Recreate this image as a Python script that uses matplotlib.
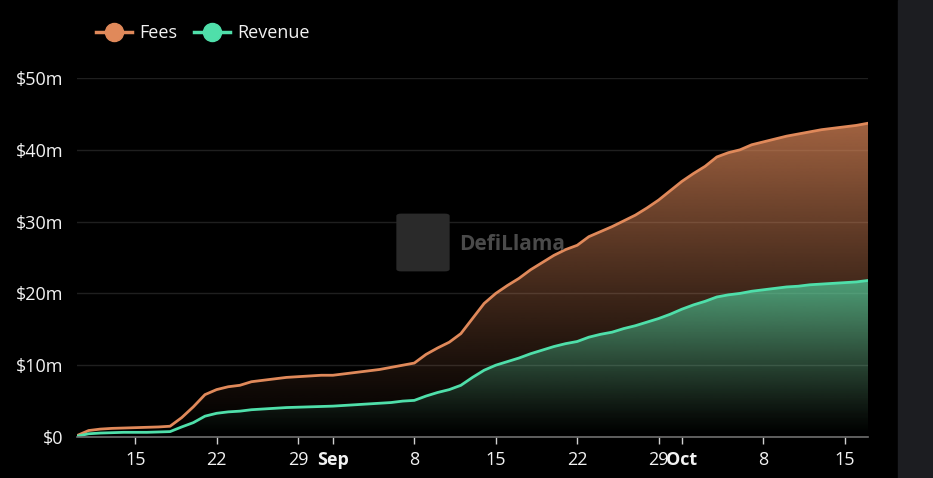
import numpy as np
import pandas as pd
import matplotlib
matplotlib.use("Agg")
import matplotlib.pyplot as plt
import matplotlib.dates as mdates
from matplotlib.colors import to_rgb
from matplotlib.lines import Line2D
from matplotlib.patches import Rectangle, FancyBboxPatch

plt.rcParams["font.family"] = ["Open Sans", "DejaVu Sans"]

# cumulative fees / revenue, in $m, one point per day
dates = pd.date_range("2024-08-10", "2024-10-17", freq="D")
fees = [0.2, 0.9, 1.1, 1.2, 1.25, 1.3, 1.35, 1.4, 1.5, 2.7, 4.2, 5.9, 6.6, 7.0,
        7.2, 7.7, 7.9, 8.1, 8.3, 8.4, 8.5, 8.6, 8.6, 8.8, 9.0, 9.2, 9.4, 9.7,
        10.0, 10.3, 11.5, 12.4, 13.2, 14.4, 16.5, 18.6, 20.0, 21.1, 22.1, 23.3,
        24.3, 25.3, 26.1, 26.7, 27.9, 28.6, 29.3, 30.1, 30.9, 31.9, 33.0, 34.3,
        35.6, 36.7, 37.7, 39.0, 39.6, 40.0, 40.7, 41.1, 41.5, 41.9, 42.2, 42.5,
        42.8, 43.0, 43.2, 43.4, 43.7]
revenue = [0.1, 0.45, 0.55, 0.6, 0.65, 0.65, 0.65, 0.7, 0.75, 1.4, 2.0, 2.9,
           3.3, 3.5, 3.6, 3.8, 3.9, 4.0, 4.1, 4.15, 4.2, 4.25, 4.3, 4.4, 4.5,
           4.6, 4.7, 4.8, 5.0, 5.1, 5.7, 6.2, 6.6, 7.2, 8.3, 9.3, 10.0, 10.5,
           11.0, 11.6, 12.1, 12.6, 13.0, 13.3, 13.9, 14.3, 14.6, 15.1, 15.5,
           16.0, 16.5, 17.1, 17.8, 18.4, 18.9, 19.5, 19.8, 20.0, 20.3, 20.5,
           20.7, 20.9, 21.0, 21.2, 21.3, 21.4, 21.5, 21.6, 21.8]

y_ticks = [0, 10, 20, 30, 40, 50]
y_labels = ["$0", "$10m", "$20m", "$30m", "$40m", "$50m"]
x_ticks = ["2024-08-15", "2024-08-22", "2024-08-29", "2024-09-01", "2024-09-08",
           "2024-09-15", "2024-09-22", "2024-09-29", "2024-10-01", "2024-10-08",
           "2024-10-15"]
x_labels = ["15", "22", "29", "Sep", "8", "15", "22", "29", "Oct", "8", "15"]

FEES_C = "#e0895a"
REV_C = "#4fdfaa"


def gradient_fill(ax, x, y, color, top_alpha, zorder):
    poly = ax.fill_between(x, 0, y, facecolor="none", edgecolor="none")
    img = np.zeros((256, 1, 4))
    img[:, :, :3] = to_rgb(color)
    img[:, 0, 3] = np.linspace(0, 1, 256) ** 1.2 * top_alpha
    im = ax.imshow(img, extent=[x[0], x[-1], 0, max(y)], aspect="auto",
                   origin="lower", zorder=zorder, interpolation="bilinear")
    im.set_clip_path(poly.get_paths()[0], transform=ax.transData)


fig = plt.figure(figsize=(9.33, 4.78), dpi=100, facecolor="black")
fig.add_artist(Rectangle((898 / 933, 0), 35 / 933, 1, transform=fig.transFigure,
                         color="#1c1d21", zorder=0))
ax = fig.add_axes([77 / 933, 1 - 437 / 478, 791 / 933, 359 / 478])
ax.set_facecolor("black")

xn = mdates.date2num(dates)
gradient_fill(ax, xn, fees, FEES_C, 0.72, 1)
gradient_fill(ax, xn, revenue, REV_C, 0.65, 2)
ax.plot(xn, fees, color=FEES_C, lw=2, zorder=3)
ax.plot(xn, revenue, color=REV_C, lw=2, zorder=3)

ax.set_xlim(xn[0], xn[-1])
ax.set_ylim(0, 50)
ax.set_yticks(y_ticks)
ax.set_yticklabels(y_labels)
ax.set_xticks(mdates.date2num(pd.to_datetime(x_ticks)))
ax.set_xticklabels(x_labels)
for lbl in ax.get_xticklabels():
    if lbl.get_text() in ("Sep", "Oct"):
        lbl.set_fontweight("bold")

ax.grid(axis="y", color="#1f1f1f", lw=1)
ax.set_axisbelow(True)
for s in ["top", "right", "left"]:
    ax.spines[s].set_visible(False)
ax.spines["bottom"].set_color("#6e6e6e")
ax.spines["bottom"].set_linewidth(1.2)
ax.spines["bottom"].set_zorder(4)
ax.tick_params(axis="y", length=0, pad=10, labelsize=13, labelcolor="#f2f2f2")
ax.tick_params(axis="x", length=5, width=1, color="#d0d0d0", pad=5,
               labelsize=13, labelcolor="#f2f2f2")

handles = [Line2D([], [], color=FEES_C, lw=2.5, marker="o", markersize=13),
           Line2D([], [], color=REV_C, lw=2.5, marker="o", markersize=13)]
leg = ax.legend(handles, ["Fees", "Revenue"], loc="center left", ncol=2,
                bbox_to_anchor=(96 / 933, 1 - 33 / 478),
                bbox_transform=fig.transFigure, frameon=False, borderpad=0,
                borderaxespad=0, handlelength=2.0, handletextpad=0.4,
                columnspacing=0.9, fontsize=13, labelcolor="#f2f2f2")

# watermark
fig.add_artist(FancyBboxPatch((401 / 933, 1 - 269 / 478), 44 / 933, 53 / 478,
                              boxstyle="round,pad=0.005", transform=fig.transFigure,
                              facecolor="#2a2a2a", edgecolor="none", zorder=0.5))
fig.text(459 / 933, 1 - 244 / 478, "DefiLlama", color="#4a4a4a", fontsize=15,
         fontweight="bold", va="center", ha="left", zorder=0.6)

fig.savefig("out.png", dpi=100, facecolor="black")
